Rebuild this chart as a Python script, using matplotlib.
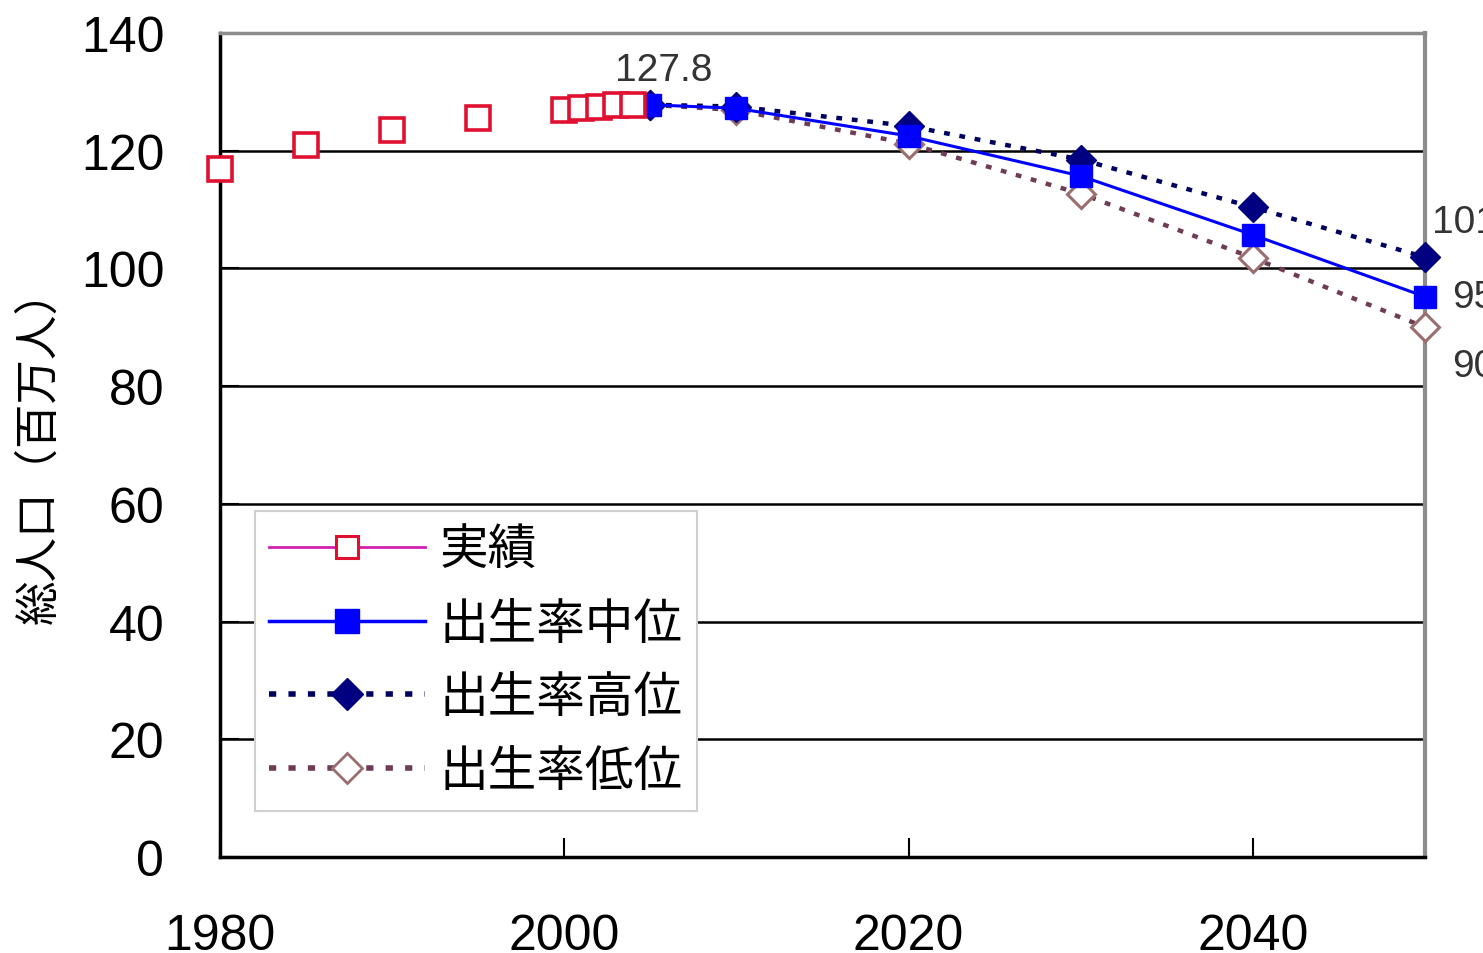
import matplotlib
matplotlib.use("Agg")
import matplotlib.pyplot as plt
from matplotlib.lines import Line2D

# 実績 (actual population, millions)
years_actual = [1980, 1985, 1990, 1995, 2000, 2001, 2002, 2003, 2004]
pop_actual = [116.9, 121.0, 123.5, 125.6, 126.9, 127.3, 127.5, 127.7, 127.8]

# 将来推計 (projections)
years_proj = [2005, 2010, 2020, 2030, 2040, 2050]
pop_mid = [127.8, 127.2, 122.5, 115.7, 105.7, 95.2]
pop_high = [127.8, 127.5, 124.2, 118.5, 110.4, 101.9]
pop_low = [127.8, 126.9, 121.2, 112.7, 101.8, 90.0]

labels = ["実績", "出生率中位", "出生率高位", "出生率低位"]
ylabel = "総人口（百万人）"

jp = ["Noto Sans CJK JP", "DejaVu Sans"]
num_font = "Liberation Sans"

fig = plt.figure(figsize=(14.83, 9.54), dpi=100)
ax = fig.add_axes([0.1483, 0.1006, 0.8126, 0.8638])

ax.set_xlim(1980, 2050)
ax.set_ylim(0, 140)

# horizontal grid lines
for y in range(20, 140, 20):
    ax.axhline(y, color="black", lw=1.8, zorder=1)

dash = (0, (1.3, 2.2))

ax.plot(years_actual, pop_actual, ls="none", marker="s", ms=17, mfc="white",
        mec="#e01030", mew=2.6, zorder=5, clip_on=False)
ax.plot(years_proj, pop_low, ls=dash, lw=3.2, color="#6e3d55", marker="D", ms=14,
        mfc="white", mec="#9a6e6e", mew=2.2, zorder=3, clip_on=False)
ax.plot(years_proj, pop_high, ls=dash, lw=3.2, color="#000060", marker="D", ms=15,
        mfc="#000080", mec="#000080", zorder=4, clip_on=False)
ax.plot(years_proj, pop_mid, ls="-", lw=2.2, color="#0000ff", marker="s", ms=16,
        mfc="#0000ff", mec="#0000ff", zorder=4, clip_on=False)

# value labels
ax.text(2005.8, pop_mid[0] + 2.8, f"{pop_mid[0]:.1f}", fontsize=28, family=num_font,
        color="#333333", ha="center", va="bottom")
ax.text(2050.4, pop_high[-1] + 3.0, f"{pop_high[-1]:.1f}", fontsize=28, family=num_font,
        color="#333333", ha="left", va="bottom", clip_on=False)
ax.text(2051.6, pop_mid[-1], f"{pop_mid[-1]:.1f}", fontsize=28, family=num_font,
        color="#333333", ha="left", va="center", clip_on=False)
ax.text(2051.6, pop_low[-1] - 6.5, f"{pop_low[-1]:.1f}", fontsize=28, family=num_font,
        color="#333333", ha="left", va="center", clip_on=False)

# spines
ax.spines["left"].set_color("black")
ax.spines["left"].set_linewidth(2.5)
ax.spines["bottom"].set_color("black")
ax.spines["bottom"].set_linewidth(2.5)
ax.spines["right"].set_color("#8c8c8c")
ax.spines["right"].set_linewidth(3)
ax.spines["top"].set_color("#8c8c8c")
ax.spines["top"].set_linewidth(2.5)

ax.set_xticks([1980, 2000, 2020, 2040])
ax.set_yticks(range(0, 141, 20))
ax.tick_params(axis="x", direction="in", length=14, width=1.5, pad=40,
               labelsize=36)
ax.tick_params(axis="y", direction="in", length=14, width=1.5, pad=40,
               labelsize=36)
for lab in ax.get_xticklabels() + ax.get_yticklabels():
    lab.set_family(num_font)

ax.set_ylabel(ylabel, family=jp, fontsize=32, labelpad=14)

handles = [
    Line2D([], [], color="#d020b0", lw=2, marker="s", ms=16, mfc="white",
           mec="#e01030", mew=2.2),
    Line2D([], [], color="#0000ff", lw=2.5, marker="s", ms=17, mfc="#0000ff",
           mec="#0000ff"),
    Line2D([], [], color="#000060", lw=4, ls=dash, marker="D", ms=16,
           mfc="#000080", mec="#000080"),
    Line2D([], [], color="#6e3d55", lw=4, ls=dash, marker="D", ms=15,
           mfc="white", mec="#9a6e6e", mew=2),
]
leg = ax.legend(handles, labels, loc="lower left", bbox_to_anchor=(0.029, 0.056),
                prop={"family": jp, "size": 35}, handlelength=3.2,
                handletextpad=0.3, labelspacing=0.5, borderpad=0.3,
                borderaxespad=0, fancybox=False, framealpha=1,
                edgecolor="#d0d0d0")
leg.get_frame().set_linewidth(1.5)
leg.set_zorder(6)

fig.savefig("out.png", dpi=100, facecolor="white")
